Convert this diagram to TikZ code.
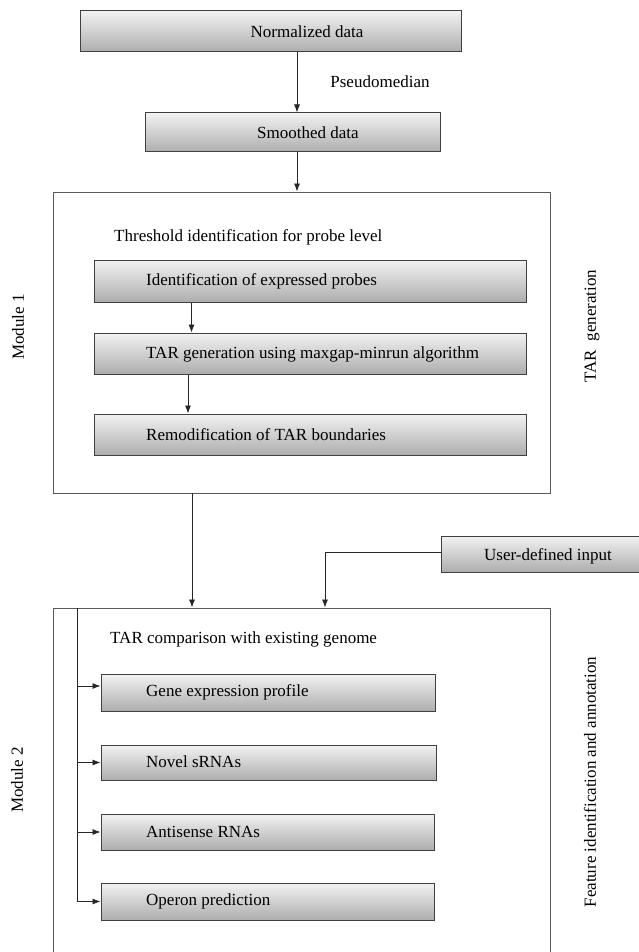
\documentclass[tikz,border=0pt]{standalone}
\usepackage{fontspec}
\setmainfont{Liberation Serif}
\usetikzlibrary{arrows.meta,positioning}

\begin{document}
\begin{tikzpicture}
  [x=1pt,y=-1pt,
   every node/.style={font=\fontsize{17}{20}\selectfont},
   stage/.style={draw=black!75,line width=1pt,top color=black!5,bottom color=black!32,inner sep=0,rectangle},
   module/.style={draw=black!65,line width=0.9pt,inner sep=0,rectangle},
   arr/.style={-{Latex[length=8pt,width=6pt]},line width=0.8pt,black!85},
   wire/.style={line width=0.8pt,black!85},
   txt/.style={anchor=west,inner sep=0}]

  \useasboundingbox (0,0) rectangle (639,952);

  % input part
  \node[stage,minimum width=381,minimum height=41] (norm) at (270.5,31.5) {};
  \node (normtxt) at (307,32) {Normalized data};
  \node (pseudo) at (380,82) {Pseudomedian};
  \node[stage,minimum width=295,minimum height=39] (smooth) at (292.5,132.5) {};
  \node (smoothtxt) at (308,133) {Smoothed data};

  % module 1
  \node[module,minimum width=497,minimum height=301] (m1) at (301.5,342.5) {};
  \node[txt] (thresh) at (114,237) {Threshold identification for probe level};
  \node[stage,minimum width=432,minimum height=42] (expr) at (310,281) {};
  \node[txt] (exprtxt) at (146,281) {Identification of expressed probes};
  \node[stage,minimum width=432,minimum height=41] (gen) at (310,353.5) {};
  \node[txt] (gentxt) at (146,354) {TAR generation using maxgap-minrun algorithm};
  \node[stage,minimum width=432,minimum height=41] (remod) at (310,434.5) {};
  \node[txt] (remodtxt) at (146,435) {Remodification of TAR boundaries};
  \node[rotate=90] (lab1) at (18,327) {Module 1};
  \node[rotate=90] (side1) at (592,326) {TAR\ \ generation};

  \node[stage,minimum width=204,minimum height=36] (user) at (543,554) {};
  \node (usertxt) at (548,556) {User-defined input};

  % module 2
  \node[module,minimum width=497,minimum height=357] (m2) at (301.5,786.5) {};
  \node[txt] (comp) at (110,639) {TAR comparison with existing genome};
  \node[stage,minimum width=334,minimum height=37] (gene) at (268,692.5) {};
  \node[txt] (genetxt) at (146,692) {Gene expression profile};
  \node[stage,minimum width=335,minimum height=35] (novel) at (268.5,762.5) {};
  \node[txt] (noveltxt) at (146,762) {Novel sRNAs};
  \node[stage,minimum width=333,minimum height=36] (anti) at (267.5,832) {};
  \node[txt] (antitxt) at (146,832) {Antisense RNAs};
  \node[stage,minimum width=333,minimum height=37] (oper) at (267.5,901.5) {};
  \node[txt] (opertxt) at (146,901) {Operon prediction};
  \node[rotate=90] (lab2) at (17,780) {Module 2};
  \node[rotate=90] (side2) at (590,782) {Feature identification and annotation};

  \draw[arr] ([xshift=26.5]norm.south) -- ([xshift=26.5]norm.south |- smooth.north);
  \draw[arr] ([xshift=4.5]smooth.south) -- ([xshift=4.5]smooth.south |- m1.north);
  \draw[arr] ([xshift=-118.5]expr.south) -- ([xshift=-118.5]expr.south |- gen.north);
  \draw[arr] ([xshift=-122]gen.south) -- ([xshift=-122]gen.south |- remod.north);
  \draw[arr] ([xshift=-109.5]m1.south) -- ([xshift=-109.5]m1.south |- m2.north);
  \draw[arr] ([yshift=2]user.west) -| ([xshift=23.5]m2.north);

  \coordinate (top2) at (77,608);
  \coordinate (bot2) at (77,901);
  \draw[wire] (top2) -- (bot2);
  \coordinate (g) at ([yshift=6.5]gene.west);
  \draw[arr] (top2 |- g) -- (g);
  \foreach \b in {novel,anti,oper}
    \draw[arr] (top2 |- \b.west) -- (\b.west);
\end{tikzpicture}
\end{document}
